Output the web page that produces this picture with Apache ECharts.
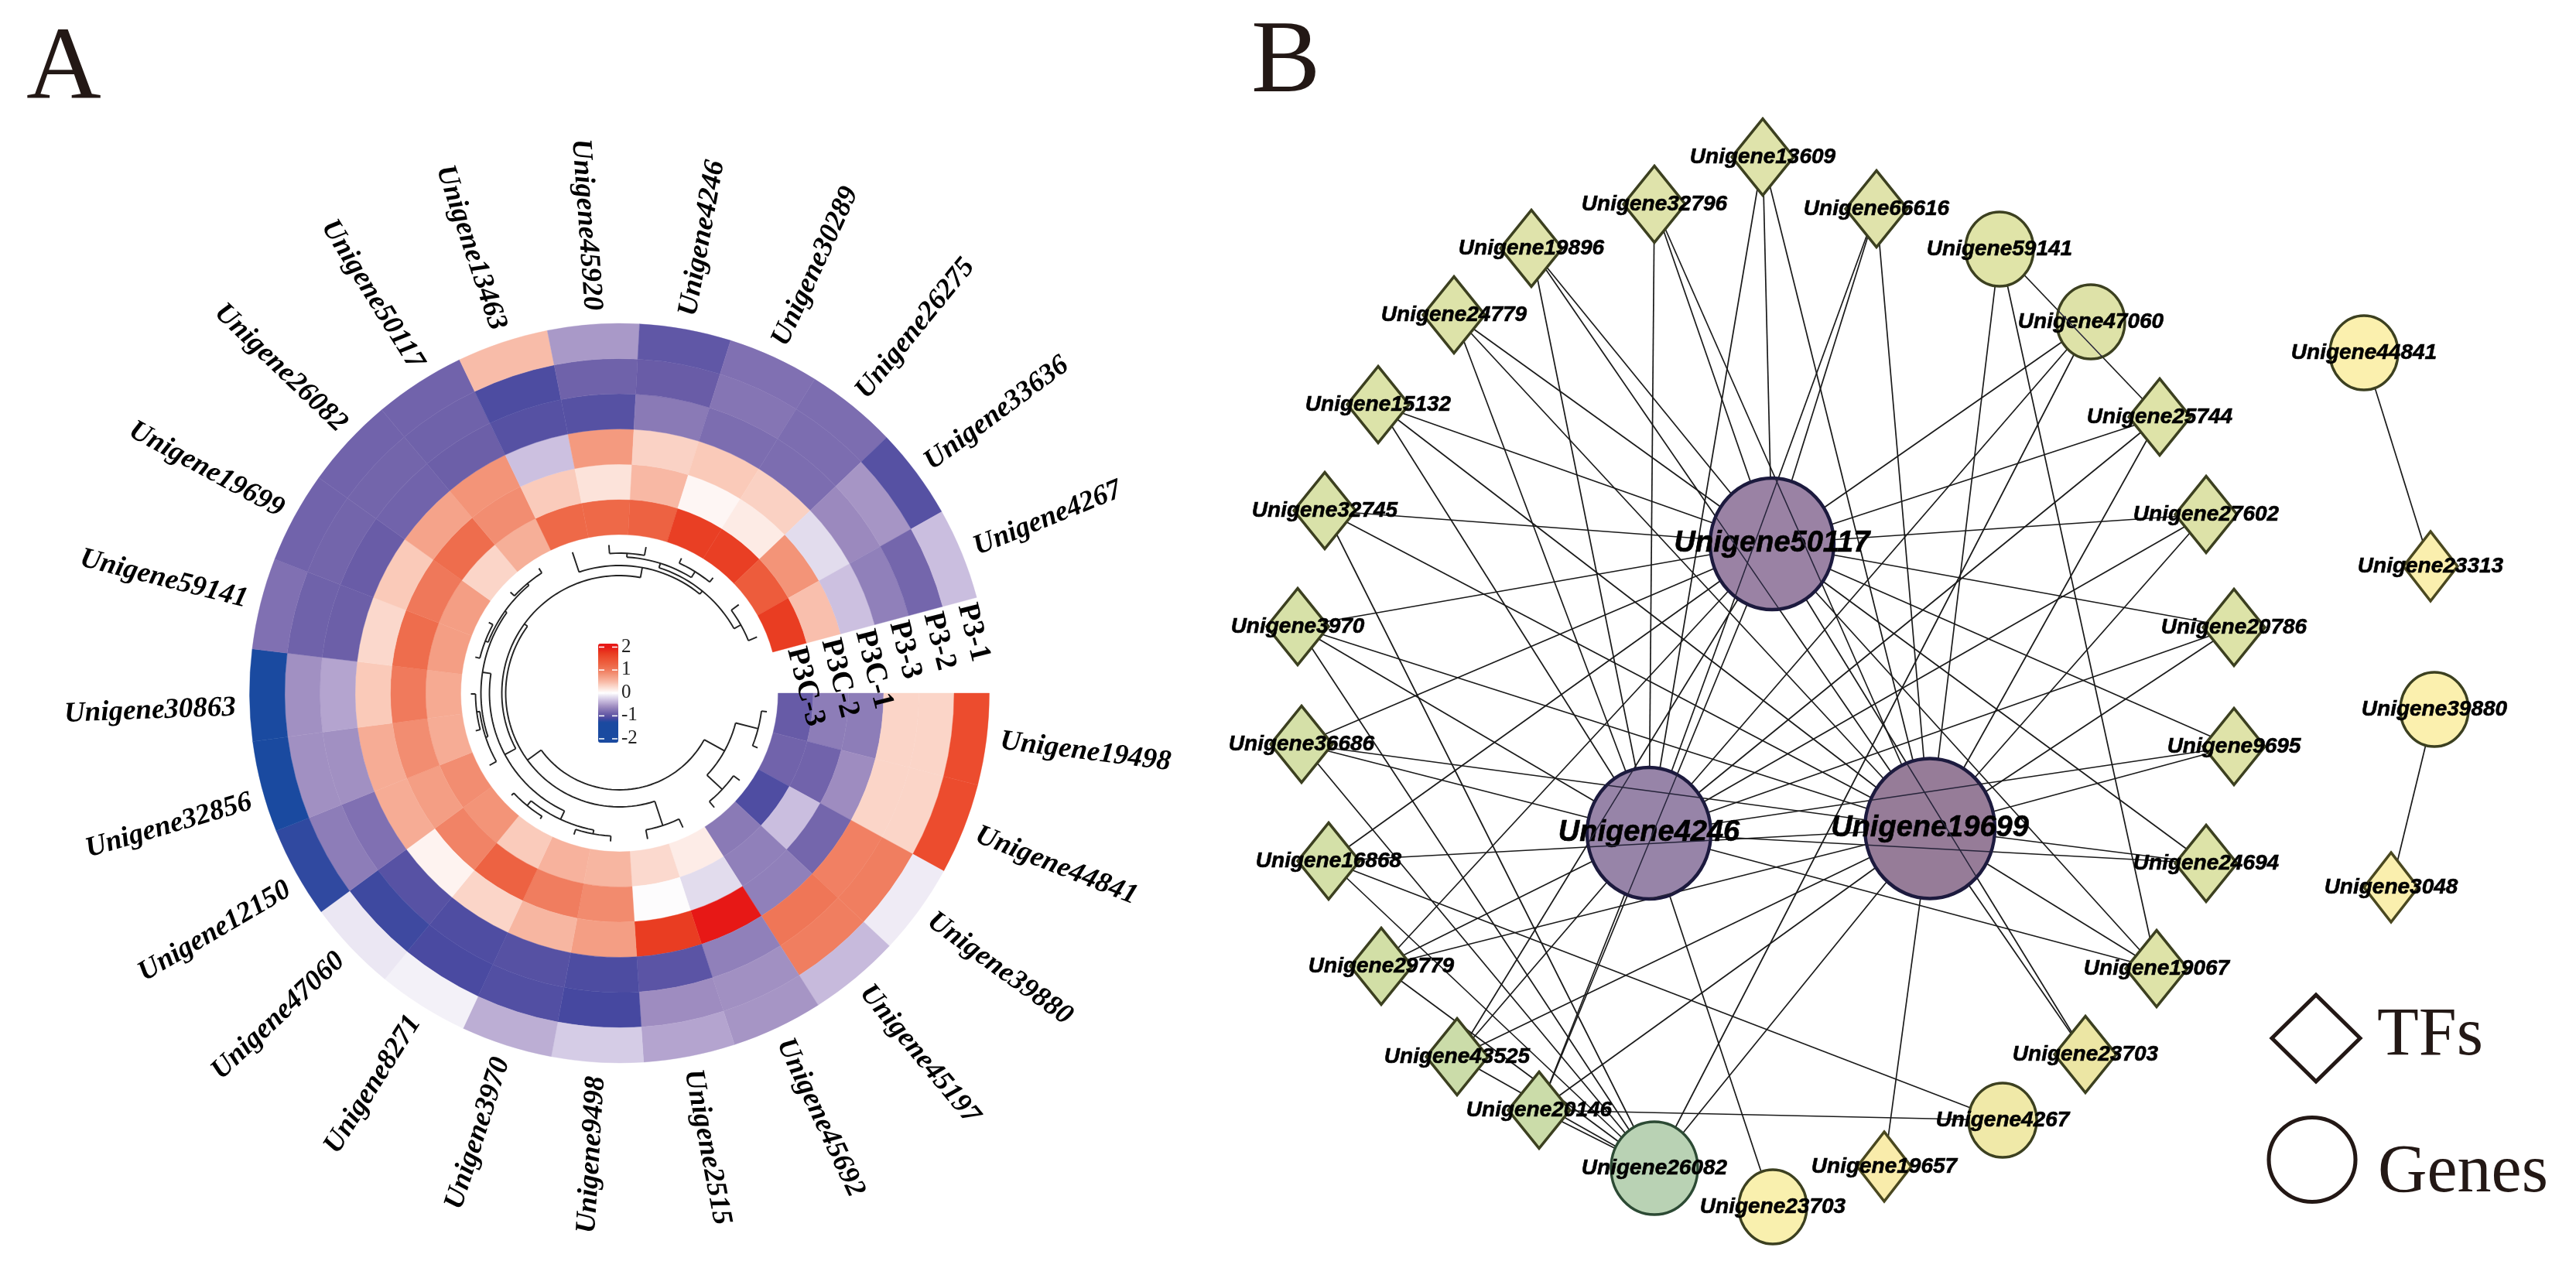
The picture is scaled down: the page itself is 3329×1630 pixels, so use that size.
<!DOCTYPE html>
<html>
<head>
<meta charset="utf-8">
<style>html,body{margin:0;padding:0;background:#fff}#c{width:3329px;height:1630px}</style>
<script src="https://cdn.jsdelivr.net/npm/echarts@6/dist/echarts.min.js"></script>
</head>
<body>
<div id="c"></div>
<script>
// ---------- Panel A data ----------
const genes = ['Unigene19498','Unigene44841','Unigene39880','Unigene45197','Unigene45692','Unigene2515','Unigene9498','Unigene3970','Unigene8271','Unigene47060','Unigene12150','Unigene32856','Unigene30863','Unigene59141','Unigene19699','Unigene26082','Unigene50117','Unigene13463','Unigene45920','Unigene4246','Unigene30289','Unigene26275','Unigene33636','Unigene4267'];
const samples = ['P3C-3','P3C-2','P3C-1','P3-3','P3-2','P3-1'];
const valuesP3C3 = [-.93,-.87,-1.07,-.72,.13,.27,.52,.55,.37,.8,.85,.6,.62,.72,.72,.3,.58,1.2,1.2,1.27,1.7,1.7,1.35,1.72];
const valuesP3C2 = [-.7,-.87,-.33,-.68,-.18,0,.87,.98,1.27,.93,.72,.85,1,1.15,1.02,1.15,.85,.37,.2,.5,.06,.14,.8,.45];
const valuesP3C1 = [-.7,-.6,-.85,-.68,2,1.72,.72,.52,.3,.08,.6,.6,.38,.28,.38,.68,.8,-.32,.75,.32,.38,.33,-.18,-.32];
const valuesP33 = [.3,.3,.95,1.05,-.68,-1,-1.08,-1.03,-1.07,-1.02,-.78,-.58,-.47,-.9,-.92,-.87,-.9,-1.03,-1.03,-.72,-.8,-.8,-.62,-.68];
const valuesP32 = [.3,.3,.97,.97,-.58,-.6,-1.12,-1.05,-1.1,-1.15,-.7,-.58,-.58,-.88,-.86,-.86,-.88,-1.08,-.88,-.92,-.75,-.8,-.55,-.85];
const valuesP31 = [1.55,1.55,-.1,-.35,-.55,-.47,-.26,-.42,-.07,-.12,-1.2,-2,-2,-.78,-.87,-.87,-.87,.47,-.53,-.97,-.78,-.8,-1.03,-.33];
const heatRows = [valuesP3C3,valuesP3C2,valuesP3C1,valuesP33,valuesP32,valuesP31];
const colorbarTicks = [2,1,0,-1,-2];
// dendrogram: [height, left, right]; a number is a leaf (gene index)
const dendrogram = [125,
  [155,[185,0,1],[182,2,3]],
  [147,[180,4,5],
    [152,
      [168,[180,[185,6,7],[188,8,9]],
           [179,[182,10,[186,11,12]],[182,[186,13,14],[185,15,16]]]],
      [165,17,[170,[176,[181,18,19],[185,20,21]],[180,22,23]]]]]];
const leafHeight = 192;

// ---------- Panel B data ----------
const nodeIds = ['13609','32796','66616','19896','24779','15132','32745','3970','36686','16868','29779','43525','20146','26082','23703g','19657','4267','23703t','19067','24694','9695','20786','27602','25744','47060','59141','50117','4246','19699','44841','23313','39880','3048'];
const nodeX = [2278,2138,2425,1979,1879,1781,1712,1677,1682,1717,1785,1883,1989,2138,2291,2435,2588,2695,2787,2851,2887,2887,2851,2791,2702,2584,2290,2131,2494,3055,3141,3146,3090];
const nodeY = [203,264,270,321,407,523,660,810,962,1113,1249,1366,1435,1510,1560,1508,1448,1363,1252,1116,965,811,665,539,416,322,703,1077,1071,456,732,917,1147];
const nodeKinds = ['tf','tf','tf','tf','tf','tf','tf','tf','tf','tf','tf','tf','tf','geneL','gene','tfS','gene','tf','tf','tf','tf','tf','tf','tf','gene','gene','hub','hub','hubL','gene','tfS','gene','tfS'];
const hubs = ['50117','4246','19699'];
const tfAllHubs = ['13609','32796','66616','19896','24779','15132','3970','36686','29779','43525','20146','25744','27602','20786','9695','24694','19067','47060'];
const extraLinks = [['32745','50117'],['32745','19699'],['16868','50117'],['16868','19699'],['23703t','19699'],['23703t','50117'],['19657','19699'],['23703g','4246'],['26082','19699'],['59141','19699'],['59141','19067'],['59141','25744'],['32745','26082'],['3970','26082'],['36686','26082'],['16868','26082'],['29779','26082'],['43525','26082'],['20146','26082'],['16868','4267'],['20146','4267'],['44841','23313'],['39880','3048']];
const legendKeys = ['TFs','Genes'];

// ---------- Layout and styling ----------
const W = 3329, H = 1630;
const R_INNER = 205, R_STEP = 45.5, R_OUTER = 478, GAP_SPAN = 24 * 360 / 345;
const labelNudge = {10:-.1, 11:-.12, 12:-.13, 15:.07, 16:.07};
const nodeSize = {tf:[80,99], tfS:[70,90], gene:[88,96], geneL:[112,120], hub:[160,170], hubL:[168,181]};
const nodeFill = ['#dfe3ab','#dfe3ab','#e0e3ab','#dfe3ab','#dde3a9','#dce3a9','#d9e2a9','#d7e1a8','#d5e0a8','#d4e0a8','#d2dfa6','#cbdca9','#cbdca9','#b9d2b4','#f9f0ae','#f9ecab','#f0e9a8','#ece6a4','#dee3a8','#dde3a8','#dfe3a9','#dde3a8','#dde2a8','#dee3a8','#dee2a8','#e0e4a8','#9a82a4','#9784a8','#967c98','#fbf0ae','#faefae','#fbf0ae','#faefae'];
const nodeStroke = {hub:'#1c1a3e', hubL:'#1c1a3e', tfS:'#4a4820', geneL:'#2c4a34'};
const stops = [[-2.2,[26,74,160]],[-1.28,[26,74,160]],[-1.12,[70,72,160]],[-.9,[108,94,168]],[-.6,[158,140,192]],[-.3,[207,196,226]],[0,[255,255,255]],[.3,[251,213,200]],[.5,[248,184,164]],[.8,[243,148,120]],[1,[240,122,92]],[1.25,[237,100,67]],[1.55,[236,76,46]],[1.75,[232,58,32]],[2,[231,24,22]],[2.2,[231,24,22]]];
function ramp(v){
  for(let i=1;i<stops.length;i++){ if(v<=stops[i][0]){ const a=stops[i-1],b=stops[i],t=(v-a[0])/(b[0]-a[0]);
    return 'rgb('+a[1].map((c,k)=>Math.round(c+(b[1][k]-c)*t)).join(',')+')'; } }
  return 'rgb(231,24,22)';
}
const CB_MIN=-2.17, CB_MAX=2.15, cbColors=[];
for(let i=0;i<=86;i++) cbColors.push(ramp(CB_MIN+(CB_MAX-CB_MIN)*i/86));

const cellData=[];
heatRows.forEach((row,ring)=>row.forEach((v,g)=>cellData.push([ring,g,v])));
const ringR = i => R_INNER + R_STEP*i;

function polarInfo(params,api,r,g){
  const p=api.coord([r,g]);
  const cs=params.coordSys;
  return {x:p[0],y:p[1],angle:Math.atan2(p[1]-cs.cy,p[0]-cs.cx),radius:Math.hypot(p[0]-cs.cx,p[1]-cs.cy)};
}
function renderCell(params,api){
  const ring=api.value(0), g=api.value(1), color=api.visual('color');
  const a=polarInfo(params,api,ringR(ring),g), b=polarInfo(params,api,ringR(ring+1),g+1);
  return {type:'sector',shape:{cx:params.coordSys.cx,cy:params.coordSys.cy,r0:a.radius,r:b.radius,startAngle:a.angle,endAngle:b.angle,clockwise:true},
    style:{fill:color,stroke:color,lineWidth:.4}};
}
function renderGeneLabel(params,api){
  const g=api.value(1);
  const p=polarInfo(params,api,496,g+.5+(labelNudge[g]||0));
  const right=Math.cos(p.angle)>=0;
  return {type:'text',x:p.x,y:p.y,rotation:right?-p.angle:Math.PI-p.angle,
    style:{text:genes[params.dataIndex],font:'italic bold 37px "Liberation Serif"',fill:'#000',align:right?'left':'right',verticalAlign:'middle'}};
}
function renderSampleLabel(params,api){
  const ring=api.value(0);
  const p=polarInfo(params,api,ringR(ring)+R_STEP/2+7,24.04);
  const rot=-(p.angle+Math.PI/2);
  return {type:'text',x:p.x,y:p.y,rotation:rot,
    style:{text:samples[ring],font:'bold 39px "Liberation Serif"',fill:'#000',align:'left',verticalAlign:'middle'}};
}
// flatten the dendrogram into radial and arc segments
const treeSegs=[];
function walk(node){
  if(typeof node==='number') return {pos:node+.5,h:leafHeight};
  const [h,l,r]=node, a=walk(l), b=walk(r);
  treeSegs.push([h,a.h,a.pos,a.pos]);
  treeSegs.push([h,b.h,b.pos,b.pos]);
  treeSegs.push([h,h,a.pos,b.pos]);
  return {pos:(a.pos+b.pos)/2,h:h};
}
walk(dendrogram);
function renderTree(params,api){
  const r0=api.value(0), r1=api.value(1), g0=api.value(2), g1=api.value(3);
  const pts=[], n=r0===r1?Math.max(2,Math.ceil(Math.abs(g1-g0)*6)):1;
  for(let i=0;i<=n;i++) pts.push(api.coord([r0+(r1-r0)*i/n,g0+(g1-g0)*i/n]));
  return {type:'polyline',shape:{points:pts},style:{fill:'none',stroke:'#222',lineWidth:1.9}};
}

// ---------- Network ----------
const idx = id => nodeIds.indexOf(id);
const nodeLabel = id => 'Unigene'+id.replace(/[a-z]/g,'');
const links=[];
tfAllHubs.forEach(t=>{
  const list = t==='47060' ? ['50117','4246','26082'] : hubs;
  list.forEach(h=>links.push([idx(t),idx(h)]));
});
extraLinks.forEach(l=>links.push([idx(l[0]),idx(l[1])]));
const isCircle = k => k==='gene'||k==='geneL'||k==='hub'||k==='hubL';
const graphNodes=nodeIds.map((id,i)=>{
  const k=nodeKinds[i], big=k==='hub'||k==='hubL';
  return {name:id,value:[nodeX[i],nodeY[i]],symbol:isCircle(k)?'circle':'diamond',symbolSize:nodeSize[k],
    itemStyle:{color:nodeFill[i],borderColor:nodeStroke[k]||'#3c4020',borderWidth:big?4.5:3.5},
    label:{show:true,position:'inside',formatter:nodeLabel(id),fontFamily:'Liberation Sans',fontStyle:'italic',fontWeight:'bold',fontSize:big?38:28,color:'#000',textBorderColor:'#000',textBorderWidth:.6}};
});
// sections of edges that pass over a round node are drawn above that node
const chords=[];
links.forEach(l=>{
  const ax=nodeX[l[0]],ay=nodeY[l[0]],dx=nodeX[l[1]]-ax,dy=nodeY[l[1]]-ay;
  nodeIds.forEach((id,c)=>{
    if(c===l[0]||c===l[1]||!isCircle(nodeKinds[c])) return;
    const s=nodeSize[nodeKinds[c]],rx=s[0]/2,ry=s[1]/2;
    const fx=(ax-nodeX[c])/rx,fy=(ay-nodeY[c])/ry,ex=dx/rx,ey=dy/ry;
    const A=ex*ex+ey*ey,B=2*(fx*ex+fy*ey),C=fx*fx+fy*fy-1,D=B*B-4*A*C;
    if(D<=0) return;
    const t1=(-B-Math.sqrt(D))/(2*A),t2=(-B+Math.sqrt(D))/(2*A);
    if(t2<=0||t1>=1) return;
    const u=Math.max(t1,0),v=Math.min(t2,1);
    chords.push([ax+dx*u,ay+dy*u,ax+dx*v,ay+dy*v]);
  });
});
function renderChord(params,api){
  const a=api.coord([api.value(0),api.value(1)]), b=api.coord([api.value(2),api.value(3)]);
  return {type:'line',shape:{x1:a[0],y1:a[1],x2:b[0],y2:b[1]},style:{stroke:'#26243a',lineWidth:1.5}};
}

// ---------- Fixed page text and colorbar ticks ----------
const CB_LEFT=773,CB_TOP=832,CB_W=26,CB_H=128;
const cbY = v => CB_TOP + (CB_MAX-v)/(CB_MAX-CB_MIN)*CB_H;
const graphics=[
  {type:'text',left:34,top:24,style:{text:'A',font:'134px "Liberation Serif"',fill:'#231815'}},
  {type:'text',left:1617,top:16,style:{text:'B',font:'134px "Liberation Serif"',fill:'#231815'}},
  {type:'text',left:3072,top:1296,style:{text:legendKeys[0],font:'88px "Liberation Serif"',fill:'#231815'}},
  {type:'text',left:3073,top:1473,style:{text:legendKeys[1],font:'88px "Liberation Serif"',fill:'#231815'}}
];
colorbarTicks.forEach(v=>{
  graphics.push({type:'text',left:803,top:cbY(v)-13,z:10,style:{text:String(v),font:'25px "Liberation Serif"',fill:'#222'}});
  graphics.push({type:'line',z:10,shape:{x1:CB_LEFT+1,y1:cbY(v),x2:CB_LEFT+8,y2:cbY(v)},style:{stroke:'#fff',lineWidth:1.5}});
  graphics.push({type:'line',z:10,shape:{x1:CB_LEFT+18,y1:cbY(v),x2:CB_LEFT+25,y2:cbY(v)},style:{stroke:'#fff',lineWidth:1.5}});
});

const chart=echarts.init(document.getElementById('c'),null,{renderer:'canvas',width:W,height:H});
chart.setOption({
  backgroundColor:'#fff',
  animation:false,
  tooltip:{show:false},
  polar:{center:[800.5,896],radius:[0,R_OUTER]},
  angleAxis:{type:'value',min:0,max:GAP_SPAN,startAngle:0,clockwise:true,show:false},
  radiusAxis:{type:'value',min:0,max:R_OUTER,show:false},
  grid:{left:0,top:0,width:W,height:H,show:false},
  xAxis:{type:'value',min:0,max:W,show:false},
  yAxis:{type:'value',min:0,max:H,inverse:true,show:false},
  visualMap:{type:'continuous',seriesIndex:0,dimension:2,min:CB_MIN,max:CB_MAX,calculable:false,hoverLink:false,
    left:CB_LEFT,top:CB_TOP,itemWidth:CB_W,itemHeight:CB_H,padding:0,text:null,showLabel:false,
    inRange:{color:cbColors}},
  graphic:graphics,
  series:[
    {type:'custom',name:'heat',coordinateSystem:'polar',renderItem:renderCell,data:cellData,silent:true,animation:false},
    {type:'custom',name:'tree',coordinateSystem:'polar',renderItem:renderTree,data:treeSegs,silent:true,animation:false},
    {type:'custom',name:'geneLabels',coordinateSystem:'polar',renderItem:renderGeneLabel,data:genes.map((g,i)=>[R_OUTER,i]),silent:true,animation:false,z:5},
    {type:'custom',name:'sampleLabels',coordinateSystem:'polar',renderItem:renderSampleLabel,data:samples.map((s,i)=>[i,24]),silent:true,animation:false,z:5},
    {type:'graph',name:'network',coordinateSystem:'cartesian2d',xAxisIndex:0,yAxisIndex:0,layout:'none',roam:false,silent:true,animation:false,
      data:graphNodes,links:links.map(l=>({source:l[0],target:l[1]})),
      lineStyle:{color:'#1a1a1a',width:1.7,opacity:1,curveness:0},edgeSymbol:['none','none'],emphasis:{disabled:true}},
    {type:'custom',name:'overpasses',coordinateSystem:'cartesian2d',renderItem:renderChord,data:chords,silent:true,animation:false,z:3,encode:{x:0,y:1}},
    {type:'scatter',name:'legendKeys',coordinateSystem:'cartesian2d',silent:true,animation:false,
      data:[{value:[2993,1342],symbol:'diamond',symbolSize:[114,112]},{value:[2988,1499],symbol:'circle',symbolSize:[112,109]}],
      itemStyle:{color:'#fff',borderColor:'#231815',borderWidth:5,opacity:1}}
  ]
});
</script>
</body>
</html>
